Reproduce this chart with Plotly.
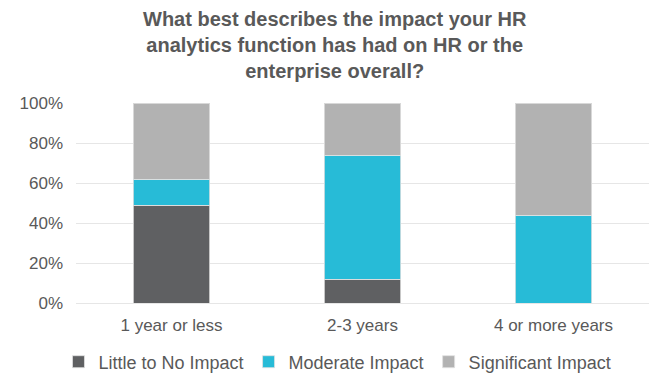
import plotly.graph_objects as go

categories = ["1 year or less", "2-3 years", "4 or more years"]
little = [49, 12, 0]
moderate = [13, 62, 44]
significant = [38, 26, 56]
y_ticks = [0, 20, 40, 60, 80, 100]
y_tick_labels = ["0%", "20%", "40%", "60%", "80%", "100%"]
title_text = "What best describes the impact your HR<br>analytics function has had on HR or the<br>enterprise overall?"

FONT = "Liberation Sans, Arial, sans-serif"
TXT = "#595959"

fig = go.Figure()
series = [
    ("Little to No Impact", little, "#5f6062"),
    ("Moderate Impact", moderate, "#27bbd7"),
    ("Significant Impact", significant, "#b2b2b2"),
]
for name, vals, col in series:
    fig.add_trace(go.Bar(
        x=categories, y=vals, name=name, width=0.4,
        marker=dict(color=col, line=dict(color="rgba(225,225,225,0.8)", width=1)),
    ))

fig.add_annotation(
    text="<b>" + title_text + "</b>", xref="paper", yref="paper",
    x=(335 - 76) / 573, y=(303 - 6) / 200, xanchor="center", yanchor="top",
    showarrow=False, align="center",
    font=dict(family=FONT, size=20, color=TXT),
)

fig.update_layout(
    barmode="stack",
    width=649, height=377,
    margin=dict(l=76, r=0, t=103, b=74),
    paper_bgcolor="white", plot_bgcolor="white",
    font=dict(family=FONT, color=TXT, size=17),
    showlegend=True,
    legend=dict(
        orientation="h", xref="container", yref="container",
        x=0.52, xanchor="center", y=1 - 362 / 377, yanchor="middle",
        font=dict(size=18, color=TXT), traceorder="normal",
        itemwidth=30,
    ),
    bargap=0.6,
)
fig.update_yaxes(
    range=[0, 100], tickvals=y_ticks, ticktext=y_tick_labels,
    showgrid=True, gridcolor="#e6e6e6", gridwidth=1,
    zeroline=True, zerolinecolor="#e6e6e6", zerolinewidth=1,
    showline=False, ticks="", ticklabelstandoff=12,
    tickfont=dict(size=17, color=TXT),
)
fig.update_xaxes(
    showgrid=False, showline=False, ticks="", ticklabelstandoff=10,
    tickfont=dict(size=17, color=TXT),
)

fig.write_html("out.html")
